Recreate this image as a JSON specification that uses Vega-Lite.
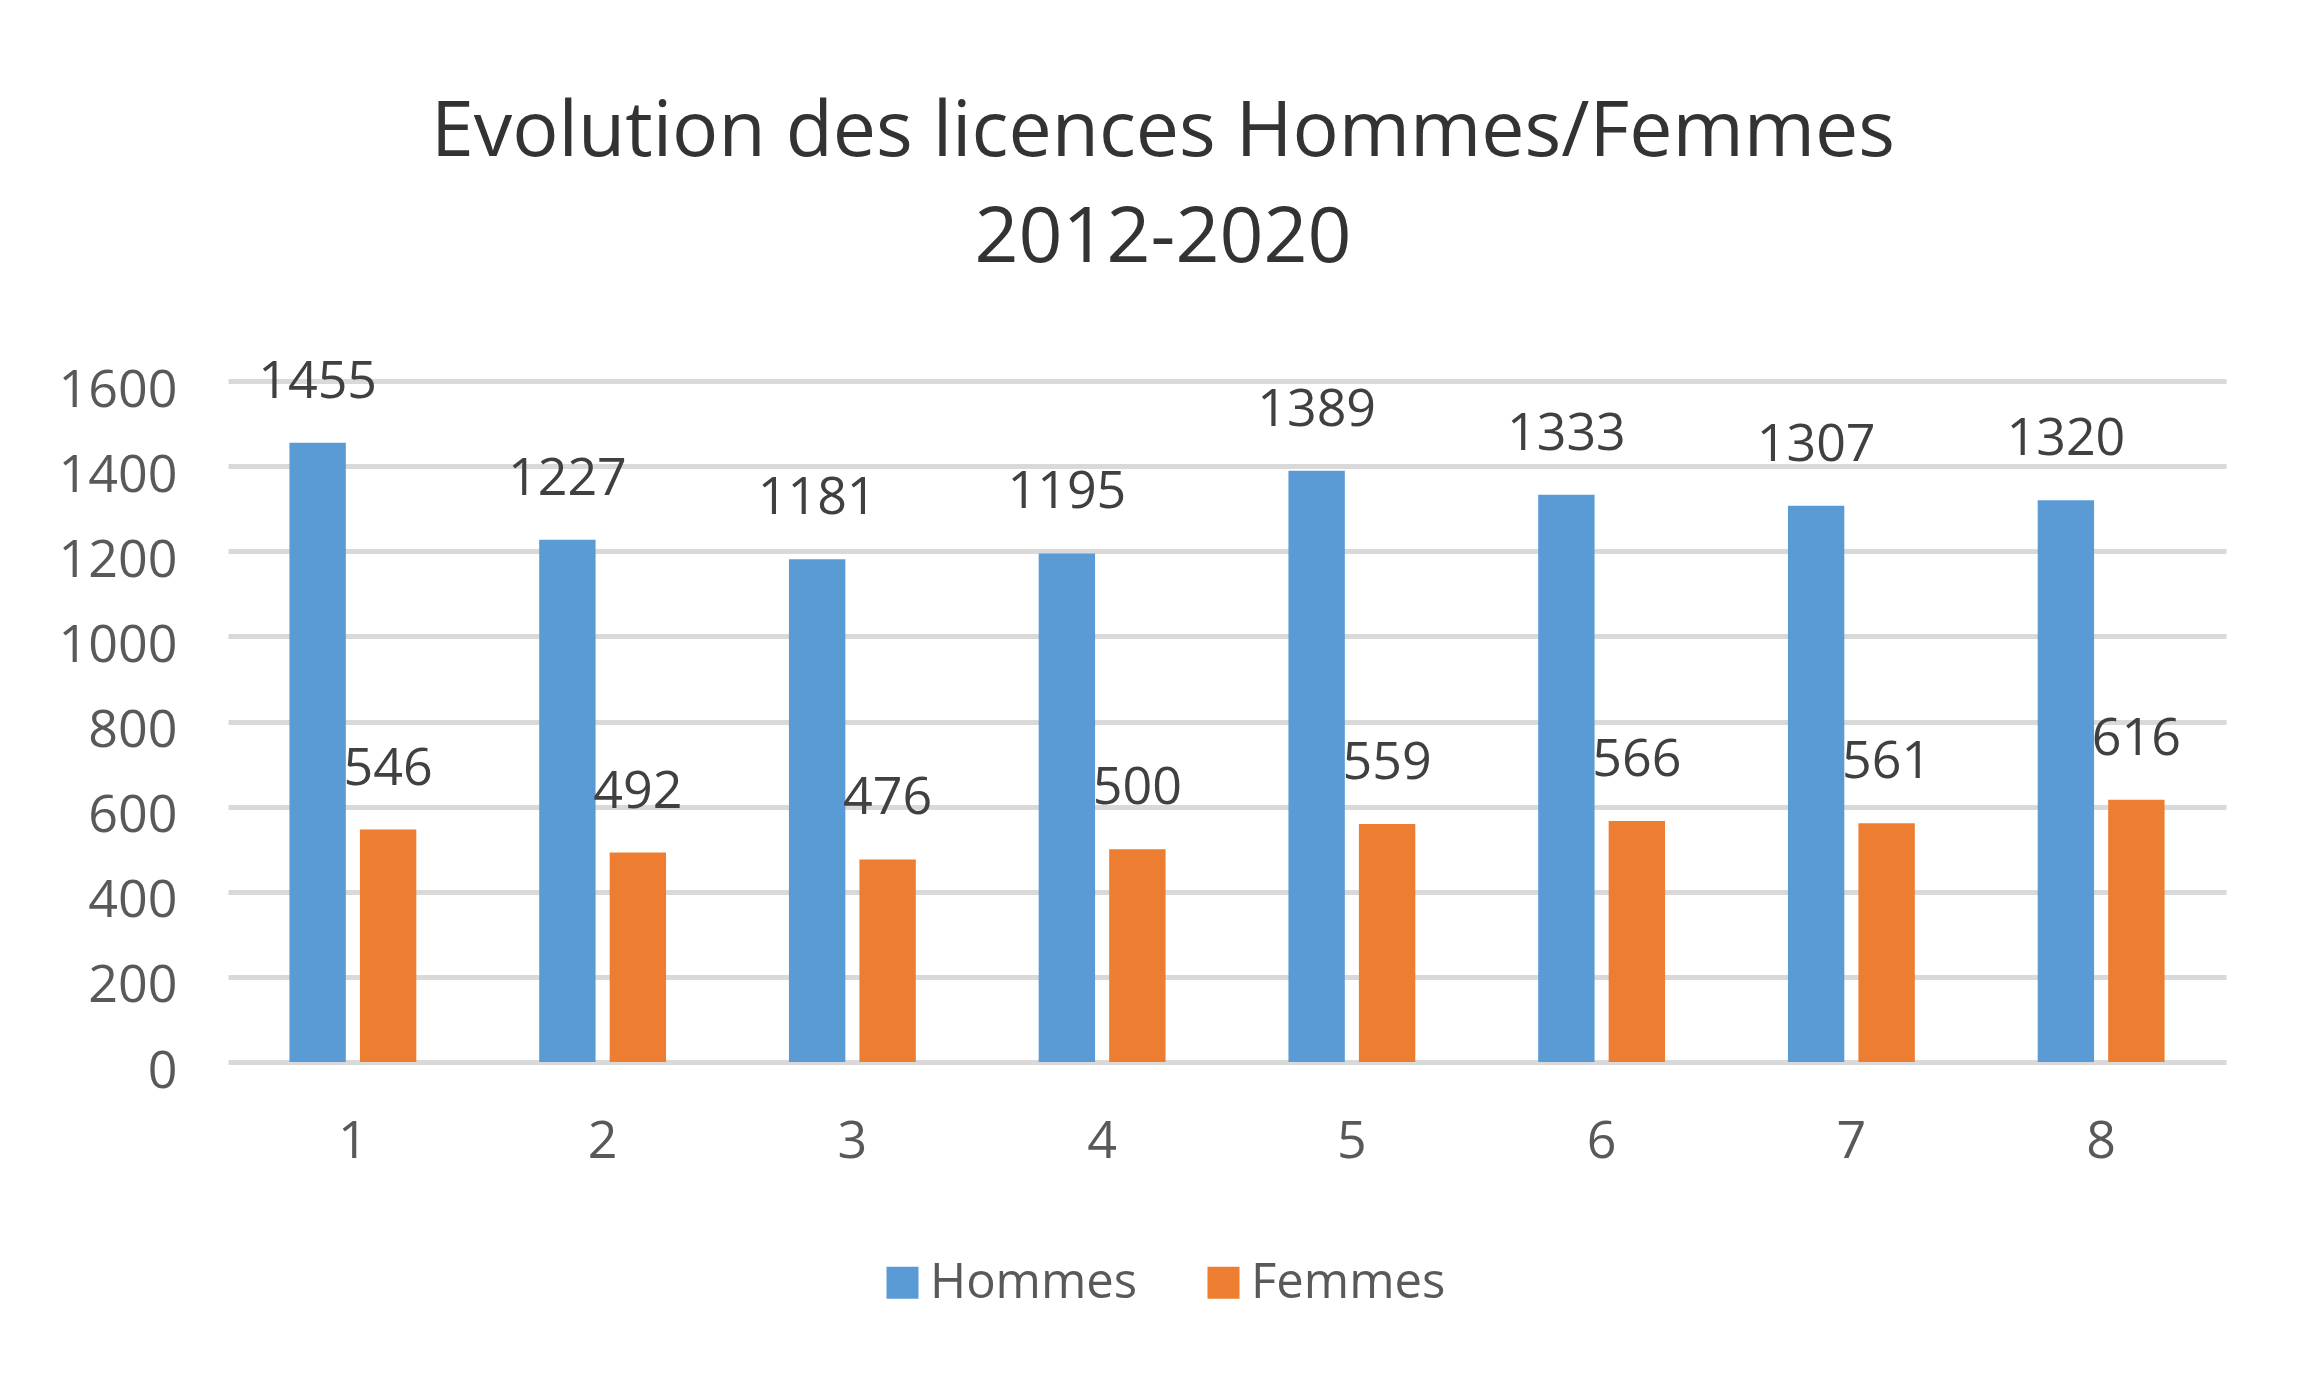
{
  "$schema": "https://vega.github.io/schema/vega-lite/v6.json",
  "autosize": {"type": "none"},
  "padding": {"left": 228, "top": 381, "right": 78, "bottom": 313},
  "width": 1998,
  "height": 681,
  "background": "#ffffff",
  "title": {
    "text": ["Evolution des licences Hommes/Femmes", "2012-2020"],
    "font": "Open Sans",
    "fontSize": 77,
    "fontWeight": "normal",
    "color": "#333333",
    "lineHeight": 106,
    "anchor": "middle",
    "frame": "group",
    "dx": -64,
    "offset": 78
  },
  "data": {
    "values": [
      {"annee": "1", "sexe": "Hommes", "licences": 1455},
      {"annee": "1", "sexe": "Femmes", "licences": 546},
      {"annee": "2", "sexe": "Hommes", "licences": 1227},
      {"annee": "2", "sexe": "Femmes", "licences": 492},
      {"annee": "3", "sexe": "Hommes", "licences": 1181},
      {"annee": "3", "sexe": "Femmes", "licences": 476},
      {"annee": "4", "sexe": "Hommes", "licences": 1195},
      {"annee": "4", "sexe": "Femmes", "licences": 500},
      {"annee": "5", "sexe": "Hommes", "licences": 1389},
      {"annee": "5", "sexe": "Femmes", "licences": 559},
      {"annee": "6", "sexe": "Hommes", "licences": 1333},
      {"annee": "6", "sexe": "Femmes", "licences": 566},
      {"annee": "7", "sexe": "Hommes", "licences": 1307},
      {"annee": "7", "sexe": "Femmes", "licences": 561},
      {"annee": "8", "sexe": "Hommes", "licences": 1320},
      {"annee": "8", "sexe": "Femmes", "licences": 616}
    ]
  },
  "encoding": {
    "x": {
      "field": "annee",
      "type": "ordinal",
      "scale": {"paddingInner": 0.492, "paddingOuter": 0.246},
      "axis": {
        "title": null,
        "labelAngle": 0,
        "labelFont": "Open Sans",
        "labelFontSize": 52,
        "labelColor": "#595959",
        "labelPadding": 54,
        "ticks": false,
        "tickSize": 0,
        "domain": false,
        "grid": false
      }
    },
    "xOffset": {
      "field": "sexe",
      "type": "nominal",
      "sort": ["Hommes", "Femmes"],
      "scale": {"domain": ["Hommes", "Femmes"], "paddingInner": 0.2, "paddingOuter": 0}
    },
    "y": {
      "field": "licences",
      "type": "quantitative",
      "scale": {"domain": [0, 1600], "nice": false},
      "axis": {
        "title": null,
        "format": "d",
        "values": [0, 200, 400, 600, 800, 1000, 1200, 1400, 1600],
        "labelFont": "Open Sans",
        "labelFontSize": 52,
        "labelColor": "#595959",
        "labelPadding": 51,
        "labelOffset": 9,
        "ticks": false,
        "tickSize": 0,
        "domain": false,
        "grid": true,
        "gridColor": "#d9d9d9",
        "gridWidth": 5
      }
    }
  },
  "layer": [
    {
      "mark": {"type": "bar"},
      "encoding": {
        "color": {
          "field": "sexe",
          "type": "nominal",
          "sort": ["Hommes", "Femmes"],
          "scale": {"domain": ["Hommes", "Femmes"], "range": ["#5B9BD5", "#ED7D31"]},
          "legend": {
            "title": null,
            "orient": "none",
            "direction": "horizontal",
            "legendX": 650,
            "legendY": 877,
            "symbolType": "square",
            "symbolSize": 1024,
            "symbolStrokeWidth": 0,
            "labelFont": "Open Sans",
            "labelFontSize": 49,
            "labelColor": "#595959",
            "labelOffset": 3,
            "labelLimit": 400,
            "columnPadding": 61
          }
        }
      }
    },
    {
      "mark": {
        "type": "text",
        "font": "Open Sans",
        "fontSize": 52,
        "color": "#404040",
        "baseline": "alphabetic",
        "align": "center",
        "dy": -45
      },
      "encoding": {
        "text": {"field": "licences", "type": "quantitative", "format": "d"}
      }
    }
  ],
  "config": {
    "view": {"stroke": null}
  }
}
